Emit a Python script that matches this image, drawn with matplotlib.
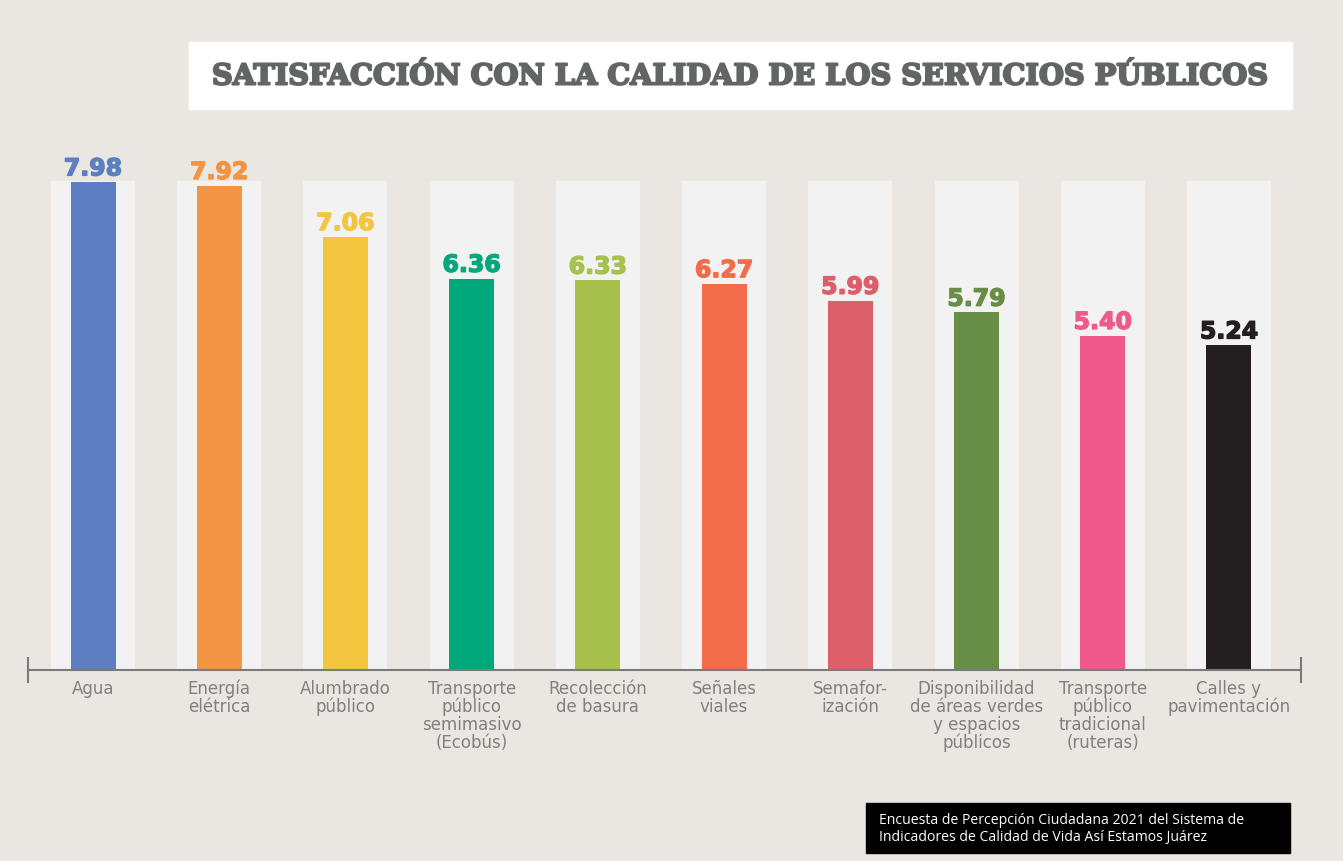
import matplotlib
matplotlib.use("Agg")
import matplotlib.pyplot as plt
import matplotlib.patheffects as pe
from matplotlib.patches import Rectangle

# ---------------------------------------------------------------------------
# data
# ---------------------------------------------------------------------------
servicios = [
    "Agua",
    "Energía\nelétrica",
    "Alumbrado\npúblico",
    "Transporte\npúblico\nsemimasivo\n(Ecobús)",
    "Recolección\nde basura",
    "Señales\nviales",
    "Semafor-\nización",
    "Disponibilidad\nde áreas verdes\ny espacios\npúblicos",
    "Transporte\npúblico\ntradicional\n(ruteras)",
    "Calles y\npavimentación",
]
calificacion = [7.98, 7.92, 7.06, 6.36, 6.33, 6.27, 5.99, 5.79, 5.40, 5.24]
escala_max = 8.0   # light backdrop bars

colores = ["#5D7FC1", "#F19443", "#F4C63F", "#00A87B", "#A8C04C",
           "#F26C4A", "#DB5E69", "#688D47", "#F0598C", "#231F20"]

BG = "#EAE7E2"
GRIS = "#808080"

fig = plt.figure(figsize=(13.43, 8.62), dpi=100)
fig.patch.set_facecolor(BG)

W, H = 1343, 862
# axes: x line 28..1301 px, baseline at y=671 px
ax = fig.add_axes([28 / W, (H - 671) / H, (1301 - 28) / W, (671 - 150) / H])
ax.set_facecolor("none")

paso = 126.2
x0 = -(93 - 28) / paso
x1 = 9 + (1301 - 1229) / paso
ppu = 59.5
y0 = -(671 - 658) / ppu
y1 = (658 - 150) / ppu
ax.set_xlim(x0, x1)
ax.set_ylim(y0, y1)

pos = range(len(servicios))
ax.bar(pos, [escala_max - y0] * len(servicios), bottom=y0, width=84 / paso,
       color="#F2F2F2", zorder=1)
ax.bar(pos, [v - y0 for v in calificacion], bottom=y0, width=45 / paso,
       color=colores, zorder=2)

for i, (v, c) in enumerate(zip(calificacion, colores)):
    ax.text(i, v + 0.03, f"{v:.2f}", ha="center", va="bottom", color=c,
            fontsize=17, fontweight="bold", family="DejaVu Sans", zorder=3,
            path_effects=[pe.withStroke(linewidth=1.0, foreground=c)])
    ax.text(i, y0 - 0.15, servicios[i], ha="center", va="top", color=GRIS,
            fontsize=12, family="DejaVu Sans", linespacing=1.0)

for s in ax.spines.values():
    s.set_visible(False)
ax.axhline(y0, color="#7a7a7a", lw=1.5, zorder=4, clip_on=False)
for xe in (x0, x1):
    ax.plot([xe, xe], [y0 - 0.2, y0 + 0.2], color="#7a7a7a", lw=1.5,
            clip_on=False, zorder=4)
ax.set_xticks([])
ax.set_yticks([])

# title box
fig.patches.append(Rectangle((189 / W, (H - 110) / H), (1292 - 189) / W, 67 / H,
                             transform=fig.transFigure, color="white", zorder=0))
fig.text((189 + 1292) / 2 / W, (H - 77) / H,
         "SATISFACCIÓN CON LA CALIDAD DE LOS SERVICIOS PÚBLICOS",
         ha="center", va="center", color="#636466", fontsize=20.7,
         fontweight="bold", family="DejaVu Serif",
         path_effects=[pe.withStroke(linewidth=1.5, foreground="#636466")])

# source box
fig.patches.append(Rectangle((866 / W, (H - 854) / H), (1290 - 866) / W, 50 / H,
                             transform=fig.transFigure, color="black", zorder=0))
fig.text(879 / W, (H - 829) / H,
         "Encuesta de Percepción Ciudadana 2021 del Sistema de\n"
         "Indicadores de Calidad de Vida Así Estamos Juárez",
         ha="left", va="center", color="white", fontsize=10.1,
         family="Open Sans", linespacing=1.25)

fig.savefig("out.png", dpi=100, facecolor=BG)
